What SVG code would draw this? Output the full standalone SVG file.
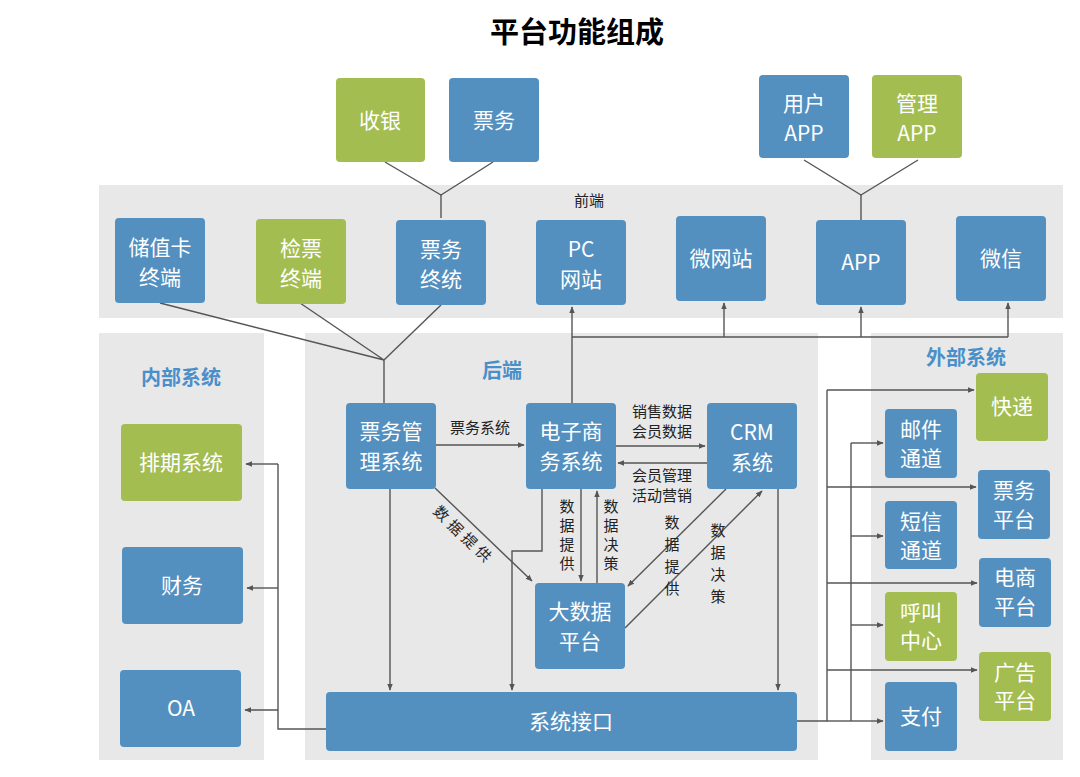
<svg xmlns="http://www.w3.org/2000/svg" width="1080" height="777" viewBox="0 0 1080 777">
<defs>
<marker id="ah" viewBox="0 0 10 10" refX="9" refY="5" markerWidth="7" markerHeight="7" orient="auto-start-reverse" markerUnits="userSpaceOnUse"><path d="M0,1 L10,5 L0,9 Z" fill="#555"/></marker>
<style>
text{font-family:"Noto Sans CJK SC","Liberation Sans",sans-serif;}
.panel{fill:#e8e8e8;}
.b{fill:#5390c0;}
.g{fill:#a3bd51;}
.nt{fill:#fff;font-size:21px;text-anchor:middle;}
.lb{fill:#222;font-size:15px;text-anchor:middle;}
.ph{fill:#4a8fc8;font-size:20px;font-weight:bold;text-anchor:middle;}
.c{stroke:#555;stroke-width:1.4;fill:none;}
.a{stroke:#555;stroke-width:1.4;fill:none;marker-end:url(#ah);}
</style>
</defs>
<rect width="1080" height="777" fill="#fff"/>
<text x="577" y="43" font-size="29" font-weight="bold" text-anchor="middle" fill="#000">平台功能组成</text>
<g id="panels">
<rect class="panel" x="99" y="185" width="964" height="133"/>
<rect class="panel" x="99" y="333" width="165" height="427"/>
<rect class="panel" x="305" y="333" width="513" height="427"/>
<rect class="panel" x="871" y="333" width="192" height="427"/>
<text x="589" y="206" class="lb" font-size="19">前端</text>
<text x="181" y="385" class="ph">内部系统</text>
<text x="502" y="378" class="ph">后端</text>
<text x="966" y="365" class="ph">外部系统</text>
</g>
<g id="connectors">
<polyline class="c" points="385,162 441,195 493,162"/>
<line class="c" x1="441" y1="195" x2="441" y2="218"/>
<polyline class="c" points="804,160 861,195 918,160"/>
<line class="c" x1="861" y1="195" x2="861" y2="220"/>
<polyline class="c" points="160,303 384,360 300,303"/>
<line class="c" x1="441" y1="305" x2="384" y2="360"/>
<line class="c" x1="384" y1="360" x2="384" y2="403"/>
<line class="a" x1="572" y1="403" x2="572" y2="307"/>
<line class="c" x1="572" y1="337" x2="1008" y2="337"/>
<line class="a" x1="724" y1="337" x2="724" y2="303"/>
<line class="a" x1="861" y1="337" x2="861" y2="307"/>
<line class="a" x1="1008" y1="337" x2="1008" y2="303"/>
<line class="a" x1="436" y1="445" x2="524" y2="445"/>
<line class="a" x1="616" y1="446" x2="705" y2="446"/>
<line class="a" x1="707" y1="463" x2="618" y2="463"/>
<line class="a" x1="435" y1="488" x2="532" y2="581"/>
<line class="a" x1="581" y1="489" x2="581" y2="581"/>
<line class="a" x1="597" y1="583" x2="597" y2="491"/>
<polyline class="a" points="542,489 542,551 512,551 512,690"/>
<line class="a" x1="726" y1="489" x2="628" y2="586"/>
<line class="a" x1="625" y1="628" x2="762" y2="491"/>
<line class="a" x1="390" y1="489" x2="390" y2="690"/>
<line class="a" x1="778" y1="489" x2="778" y2="690"/>
<polyline class="c" points="326,729 278,729 278,464"/>
<line class="a" x1="278" y1="464" x2="246" y2="464"/>
<line class="a" x1="278" y1="588" x2="247" y2="588"/>
<line class="a" x1="278" y1="710" x2="245" y2="710"/>
<polyline class="c" points="797,721 827,721 827,390"/>
<line class="c" x1="827" y1="721" x2="851" y2="721"/>
<line class="c" x1="851" y1="721" x2="851" y2="443"/>
<line class="a" x1="827" y1="390" x2="974" y2="390"/>
<line class="a" x1="827" y1="487" x2="976" y2="487"/>
<line class="a" x1="827" y1="583" x2="977" y2="583"/>
<line class="a" x1="827" y1="670" x2="977" y2="670"/>
<line class="a" x1="851" y1="443" x2="883" y2="443"/>
<line class="a" x1="851" y1="536" x2="883" y2="536"/>
<line class="a" x1="851" y1="625" x2="883" y2="625"/>
<line class="a" x1="851" y1="721" x2="883" y2="721"/>
<text x="480" y="433" class="lb">票务系统</text>
<text x="662" y="417" class="lb">销售数据</text>
<text x="662" y="437" class="lb">会员数据</text>
<text x="662" y="481" class="lb">会员管理</text>
<text x="662" y="501" class="lb">活动营销</text>
<text class="lb" transform="translate(441,514) rotate(45)" y="5">数</text>
<text class="lb" transform="translate(455,528) rotate(45)" y="5">据</text>
<text class="lb" transform="translate(469,541) rotate(45)" y="5">提</text>
<text class="lb" transform="translate(483,554) rotate(45)" y="5">供</text>
<g><text x="567" y="512" class="lb">数</text><text x="567" y="531" class="lb">据</text><text x="567" y="550" class="lb">提</text><text x="567" y="569" class="lb">供</text></g>
<g><text x="611" y="512" class="lb">数</text><text x="611" y="531" class="lb">据</text><text x="611" y="550" class="lb">决</text><text x="611" y="569" class="lb">策</text></g>
<g><text x="672" y="528" class="lb">数</text><text x="672" y="550" class="lb">据</text><text x="672" y="572" class="lb">提</text><text x="672" y="594" class="lb">供</text></g>
<g><text x="718" y="536" class="lb">数</text><text x="718" y="558" class="lb">据</text><text x="718" y="580" class="lb">决</text><text x="718" y="602" class="lb">策</text></g>
</g>
<g id="n-shouyin"><rect class="g" x="336" y="78" width="89" height="84" rx="4"/><text x="380" y="128" class="nt">收银</text></g>
<g id="n-piaowu"><rect class="b" x="449" y="78" width="90" height="84" rx="4"/><text x="494" y="128" class="nt">票务</text></g>
<g id="n-yonghuapp"><rect class="b" x="759" y="75" width="90" height="83" rx="4"/><text x="804" y="111" class="nt">用户</text><text x="804" y="141" class="nt">APP</text></g>
<g id="n-guanliapp"><rect class="g" x="872" y="75" width="90" height="83" rx="4"/><text x="917" y="111" class="nt">管理</text><text x="917" y="141" class="nt">APP</text></g>
<g id="n-chuzhika"><rect class="b" x="115" y="218" width="90" height="85" rx="4"/><text x="160" y="255" class="nt">储值卡</text><text x="160" y="285" class="nt">终端</text></g>
<g id="n-jianpiao"><rect class="g" x="256" y="219" width="90" height="85" rx="4"/><text x="301" y="256" class="nt">检票</text><text x="301" y="286" class="nt">终端</text></g>
<g id="n-piaowuzhong"><rect class="b" x="396" y="220" width="90" height="85" rx="4"/><text x="441" y="257" class="nt">票务</text><text x="441" y="287" class="nt">终统</text></g>
<g id="n-pc"><rect class="b" x="536" y="220" width="90" height="85" rx="4"/><text x="581" y="257" class="nt">PC</text><text x="581" y="287" class="nt">网站</text></g>
<g id="n-weiwangzhan"><rect class="b" x="676" y="216" width="90" height="85" rx="4"/><text x="721" y="266" class="nt">微网站</text></g>
<g id="n-app"><rect class="b" x="816" y="220" width="90" height="85" rx="4"/><text x="861" y="270" class="nt">APP</text></g>
<g id="n-weixin"><rect class="b" x="956" y="216" width="90" height="85" rx="4"/><text x="1001" y="266" class="nt">微信</text></g>
<g id="n-pwgl"><rect class="b" x="346" y="403" width="90" height="86" rx="4"/><text x="391" y="439" class="nt">票务管</text><text x="391" y="469" class="nt">理系统</text></g>
<g id="n-dzsw"><rect class="b" x="526" y="403" width="90" height="86" rx="4"/><text x="571" y="439" class="nt">电子商</text><text x="571" y="469" class="nt">务系统</text></g>
<g id="n-crm"><rect class="b" x="707" y="403" width="90" height="86" rx="4"/><text x="752" y="440" class="nt">CRM</text><text x="752" y="470" class="nt">系统</text></g>
<g id="n-dsj"><rect class="b" x="535" y="583" width="90" height="86" rx="4"/><text x="580" y="619" class="nt">大数据</text><text x="580" y="649" class="nt">平台</text></g>
<g id="n-jiekou"><rect class="b" x="326" y="692" width="471" height="59" rx="4"/><text x="571" y="729" class="nt">系统接口</text></g>
<g id="n-paiqi"><rect class="g" x="121" y="424" width="121" height="77" rx="4"/><text x="181" y="470" class="nt">排期系统</text></g>
<g id="n-caiwu"><rect class="b" x="122" y="547" width="121" height="77" rx="4"/><text x="182" y="593" class="nt">财务</text></g>
<g id="n-oa"><rect class="b" x="120" y="670" width="121" height="77" rx="4"/><text x="181" y="716" class="nt">OA</text></g>
<g id="n-kuaidi"><rect class="g" x="976" y="373" width="72" height="68" rx="4"/><text x="1012" y="414" class="nt">快递</text></g>
<g id="n-youjian"><rect class="b" x="885" y="409" width="72" height="69" rx="4"/><text x="921" y="437" class="nt">邮件</text><text x="921" y="466" class="nt">通道</text></g>
<g id="n-piaowupt"><rect class="b" x="978" y="470" width="72" height="69" rx="4"/><text x="1014" y="498" class="nt">票务</text><text x="1014" y="527" class="nt">平台</text></g>
<g id="n-duanxin"><rect class="b" x="885" y="501" width="72" height="68" rx="4"/><text x="921" y="529" class="nt">短信</text><text x="921" y="558" class="nt">通道</text></g>
<g id="n-dianshang"><rect class="b" x="979" y="558" width="72" height="69" rx="4"/><text x="1015" y="585" class="nt">电商</text><text x="1015" y="614" class="nt">平台</text></g>
<g id="n-hujiao"><rect class="g" x="885" y="592" width="72" height="69" rx="4"/><text x="921" y="620" class="nt">呼叫</text><text x="921" y="648" class="nt">中心</text></g>
<g id="n-guanggao"><rect class="g" x="979" y="652" width="72" height="69" rx="4"/><text x="1015" y="680" class="nt">广告</text><text x="1015" y="708" class="nt">平台</text></g>
<g id="n-zhifu"><rect class="b" x="885" y="682" width="72" height="69" rx="4"/><text x="921" y="724" class="nt">支付</text></g>
</svg>
